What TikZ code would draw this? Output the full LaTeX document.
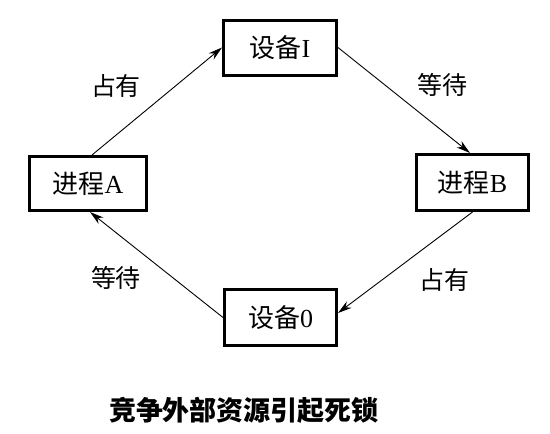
\documentclass[tikz,border=0pt]{standalone}
\usepackage{fontspec}
\setmainfont{Liberation Serif}
\newfontfamily\cjk{Noto Sans CJK SC}
\usetikzlibrary{arrows.meta}
\begin{document}
\begin{tikzpicture}[x=1pt,y=-1pt,
  box/.style={draw,line width=3pt,inner sep=0pt,font=\fontsize{26}{30}\selectfont},
  lbl/.style={font=\fontsize{25}{29}\selectfont\cjk},
  conn/.style={line width=0.9pt,-{Stealth[length=14pt,width=8pt]}}]
\useasboundingbox (0,0) rectangle (550,434);
\node[box,minimum width=113pt,minimum height=55pt] (I) at (280,47.5) {{\cjk 设备}I};
\node[box,minimum width=117pt,minimum height=54pt] (A) at (88,183.5) {{\cjk 进程}A};
\node[box,minimum width=112pt,minimum height=56pt] (B) at (472.5,182.5) {{\cjk 进程}B};
\node[box,minimum width=112pt,minimum height=56pt] (O) at (280.5,317.5) {{\cjk 设备}0};
\draw[conn] ([xshift=4pt]A.north) -- (I.west);
\draw[conn] (I.east) -- ([xshift=-2.5pt]B.north);
\draw[conn] (B.south) -- ([yshift=4.5pt]O.east);
\draw[conn] (O.west) -- ([xshift=2pt]A.south);
\node[lbl] (l1) at (116,86) {占有};
\node[lbl] (l2) at (442,85) {等待};
\node[lbl] (l3) at (444,280) {占有};
\node[lbl] (l4) at (116,278) {等待};
\node[font=\fontsize{27}{32}\selectfont\cjk\bfseries] (t) at (244,410) {竞争外部资源引起死锁};
\end{tikzpicture}
\end{document}
